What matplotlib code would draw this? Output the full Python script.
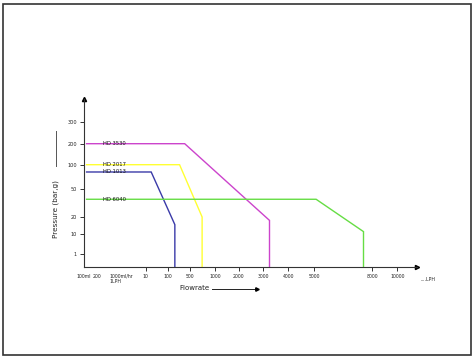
import matplotlib
matplotlib.use("Agg")
import matplotlib.pyplot as plt
import matplotlib.transforms as mtransforms
from matplotlib.patches import Rectangle
from matplotlib.lines import Line2D
import numpy as np

# tick values (LPH) and their labels on the flow axis
flow_ticks = [0.1, 0.2, 1, 10, 100, 500, 1000, 2000, 3000, 4000, 5000, 8000, 10000]
flow_labels = ["100ml", "200", "1000ml/hr\n1LPH", "10", "100", "500", "1000",
               "2000", "3000", "4000", "5000", "8000", "10000"]
press_ticks = [1, 10, 20, 50, 100, 200, 300]
press_labels = ["1", "10", "20", "50", "100", "200", "300"]

# pump curves: flow (LPH) vs pressure (bar,g)
models = ["HD 3530", "HD 2017", "HD 1013", "HD 6040"]
flow_hd3530 = [0.12, 400, 3250, 3250]
press_hd3530 = [200, 200, 18, 0]
flow_hd2017 = [0.12, 310, 740, 740]
press_hd2017 = [100, 100, 20, 0]
flow_hd1013 = [0.12, 33, 227, 227]
press_hd1013 = [85, 85, 15.5, 0]
flow_hd6040 = [0.12, 5090, 7550, 7550]
press_hd6040 = [39, 39, 11.4, 0]

colors = ["#cc44cc", "#ffff33", "#3a3aa8", "#66dd44"]

# hand drawn, uneven axis spacing (pixel positions of the ticks)
x_anchor_v = [0, 0.1, 0.2, 1, 10, 100, 500, 1000, 2000, 3000, 4000, 5000, 8000, 10000, 12000]
x_anchor_p = [68, 80.5, 93.5, 118, 142.7, 165, 188, 212.7, 236.7, 261.7, 286.7, 313.3, 371.7, 397, 420]
y_anchor_v = [0, 1, 10, 20, 50, 100, 200, 300, 400]
y_anchor_p = [0, 13, 32.7, 49.7, 77.7, 102, 123, 144.7, 167.7]


def xf(v):
    return np.interp(v, x_anchor_v, x_anchor_p)


def xi(p):
    return np.interp(p, x_anchor_p, x_anchor_v)


def yf(v):
    return np.interp(v, y_anchor_v, y_anchor_p)


def yi(p):
    return np.interp(p, y_anchor_p, y_anchor_v)


W, H = 476, 358
fig = plt.figure(figsize=(W / 100, H / 100), dpi=100)
ax = fig.add_axes([84 / W, (H - 266.7) / H, (417 - 84) / W, (266.7 - 99) / H])
ax.set_xscale("function", functions=(xf, xi))
ax.set_yscale("function", functions=(yf, yi))
ax.set_xlim(float(xi(84)), float(xi(417)))
ax.set_ylim(0, 400)

series = [(flow_hd3530, press_hd3530), (flow_hd2017, press_hd2017),
          (flow_hd1013, press_hd1013), (flow_hd6040, press_hd6040)]
for (fx, py), c, name in zip(series, colors, models):
    ax.plot(fx, py, color=c, lw=1.0, solid_joinstyle="miter", clip_on=False)
    ax.text(0.057, py[0], name, fontsize=3.8, color="#111111", va="center", ha="left",
            transform=mtransforms.blended_transform_factory(ax.transAxes, ax.transData))

ax.set_xticks(flow_ticks)
ax.set_xticklabels(flow_labels, fontsize=3.3, multialignment="left")
ax.set_yticks(press_ticks)
ax.set_yticklabels(press_labels, fontsize=3.6)
ax.xaxis.set_minor_locator(matplotlib.ticker.NullLocator())
ax.yaxis.set_minor_locator(matplotlib.ticker.NullLocator())
ax.tick_params(axis="both", length=3, width=0.7, color="#333333", pad=2, labelcolor="#222222")
for t in ax.xaxis.get_major_ticks()[:3]:
    t.tick1line.set_visible(False)

for s in ["top", "right"]:
    ax.spines[s].set_visible(False)
for s in ["left", "bottom"]:
    ax.spines[s].set_color("#333333")
    ax.spines[s].set_linewidth(0.8)

# axis arrows
ax.plot([1], [0], marker=">", ms=3, color="black", transform=ax.transAxes, clip_on=False)
ax.plot([0], [1], marker="^", ms=3, color="black", transform=ax.transAxes, clip_on=False)
ax.text(1.01, -0.075, "....LPH", fontsize=3.3, color="#222222", ha="left", va="center",
        transform=ax.transAxes)

# axis titles
fig.text(55.7 / W, 1 - 209 / H, "Pressure (bar,g)", rotation=90, fontsize=5.2,
         ha="center", va="center", color="#222222")
fig.add_artist(Line2D([55.7 / W, 55.7 / W], [1 - 166 / H, 1 - 131 / H],
                      color="#555555", lw=0.7))
fig.text(179 / W, 1 - 288.5 / H, "Flowrate", fontsize=5.0, ha="left", va="center",
         color="#222222")
fig.add_artist(Line2D([212 / W, 256 / W], [1 - 288.5 / H, 1 - 288.5 / H],
                      color="#222222", lw=0.7))
fig.add_artist(Line2D([257 / W], [1 - 288.5 / H], marker=">", ms=2.5, color="black"))

# outer frame
fig.patches.append(Rectangle((3.3 / W, 3.5 / H), (470.7 - 3.3) / W, (354.5 - 3.5) / H,
                             transform=fig.transFigure, fill=False,
                             edgecolor="#333333", lw=1.2))

fig.savefig("out.png", dpi=100)
